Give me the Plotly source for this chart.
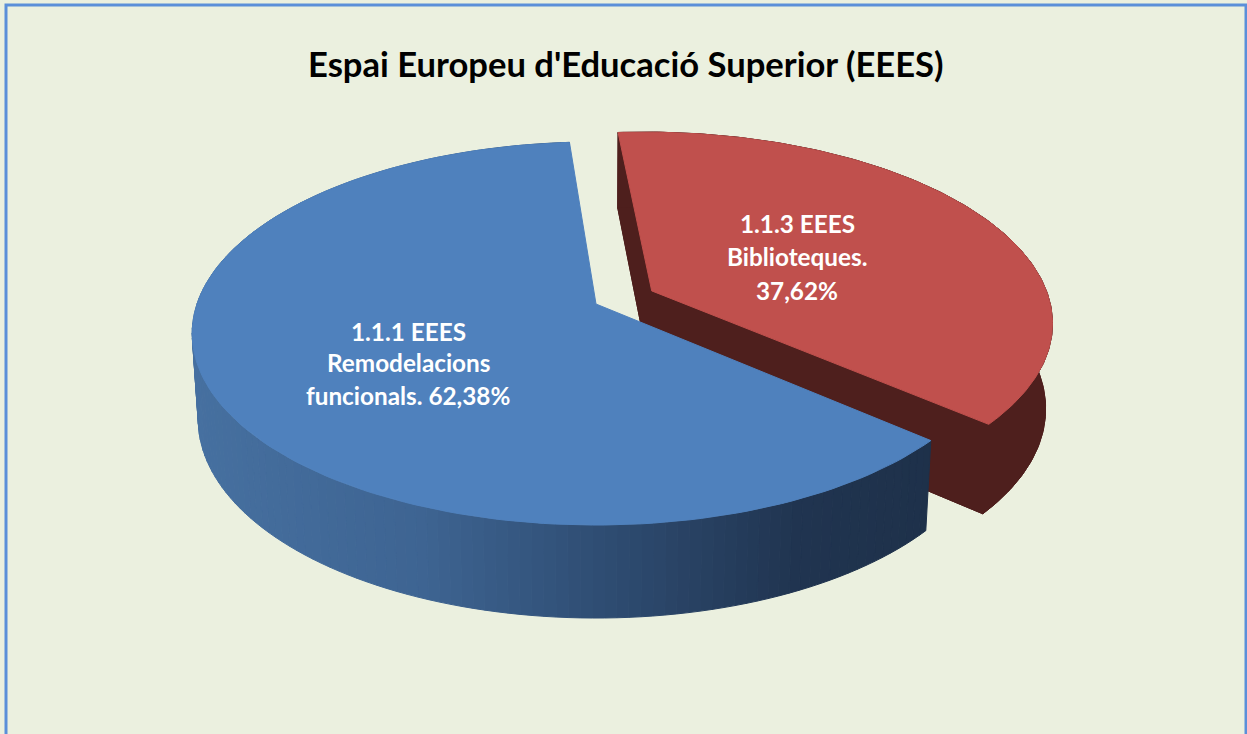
import math
import plotly.graph_objects as go

title = "Espai Europeu d'Educació Superior (EEES)"
names = ["1.1.3 EEES Biblioteques", "1.1.1 EEES Remodelacions funcionals"]
values = [37.62, 62.38]
label_lines = [["1.1.3 EEES", "Biblioteques.", "37,62%"],
               ["1.1.1 EEES", "Remodelacions", "funcionals. 62,38%"]]
top_colors = ["#C0504D", "#4F81BD"]
wall_color_red = "#4E1F1D"

W, H = 1247, 734
CX, CY, A, B, K = 596, 304, 399, 187, 0.154
START = -4.4
EXPLODE = [0.158, 0.0]
LABEL_POS = [(797, [223, 256, 290]), (408, [331, 362, 395])]


def project(X, Y, z=0.0):
    s = 1 / (1 + K * Y)
    return (CX + A * X * s * (1 - 0.015 * z),
            CY - B * Y * s + z * (84.5 - 8.5 * Y))


def ring(ang0, ang1, ox, oy, z, n=160):
    pts = []
    for i in range(n + 1):
        t = math.radians(ang0 + (ang1 - ang0) * i / n)
        pts.append(project(ox + math.sin(t), oy + math.cos(t), z))
    return pts


def poly(fig, pts, color):
    fig.add_trace(go.Scatter(
        x=[p[0] for p in pts] + [pts[0][0]],
        y=[p[1] for p in pts] + [pts[0][1]],
        mode="lines", fill="toself", fillcolor=color,
        line=dict(color=color, width=1), hoverinfo="skip", showlegend=False))


def mix(x):
    stops = [(190, (70, 112, 160)), (420, (62, 100, 146)), (640, (44, 72, 108)),
             (800, (32, 52, 80)), (935, (30, 49, 74))]
    for (x0, c0), (x1, c1) in zip(stops, stops[1:]):
        if x <= x1:
            f = max(0, (x - x0) / (x1 - x0))
            return "rgb(%d,%d,%d)" % tuple(round(a + (b - a) * f) for a, b in zip(c0, c1))
    return "rgb(30,49,74)"


fig = go.Figure()

spans = []
a0 = START
for v in values:
    a1 = a0 + v * 3.6
    spans.append((a0, a1))
    a0 = a1

a0, a1 = spans[0]
mid = math.radians((a0 + a1) / 2)
ox, oy = EXPLODE[0] * math.sin(mid), EXPLODE[0] * math.cos(mid)
top = ring(a0, a1, ox, oy, 0)
bot = ring(a0, a1, ox, oy, 1)
apex_t, apex_b = project(ox, oy, 0), project(ox, oy, 1)
poly(fig, [apex_t] + top + [apex_b], wall_color_red)
poly(fig, top + bot[::-1], wall_color_red)
poly(fig, [apex_t, top[0], bot[0], apex_b], wall_color_red)
poly(fig, [apex_t, top[-1], bot[-1], apex_b], wall_color_red)
poly(fig, [apex_b] + bot, wall_color_red)
poly(fig, [apex_t] + top, top_colors[0])

a0, a1 = spans[1]
top = ring(a0, a1, 0, 0, 0, n=150)
bot = ring(a0, a1, 0, 0, 1, n=150)
for i in range(150):
    xm = (top[i][0] + top[i + 1][0]) / 2
    poly(fig, [top[i], top[i + 1], bot[i + 1], bot[i]], mix(xm))
poly(fig, [project(0, 0)] + top, top_colors[1])

annotations = [dict(text=title, x=626, y=63, xref="x", yref="y", showarrow=False,
                    font=dict(family="Lato", size=34.6, color="black", weight="bold"))]
for lines, (lx, ys) in zip(label_lines, LABEL_POS):
    for line, ly in zip(lines, ys):
        annotations.append(dict(text=line, x=lx, y=ly, xref="x", yref="y", showarrow=False,
                                font=dict(family="Lato", size=24.3, color="white", weight="bold")))

fig.update_layout(
    width=W, height=H, margin=dict(l=0, r=0, t=0, b=0), autosize=False,
    paper_bgcolor="white", plot_bgcolor="#EBF0DF", showlegend=False,
    xaxis=dict(range=[0, W], visible=False, fixedrange=True),
    yaxis=dict(range=[H, 0], visible=False, fixedrange=True),
    annotations=annotations,
    shapes=[dict(type="rect", xref="x", yref="y", x0=6, y0=5, x1=W - 1, y1=H + 5,
                 fillcolor="#EBF0DF", line=dict(color="#5B8FD9", width=3), layer="below")],
)
fig.write_html("out.html", config=dict(displayModeBar=False),
               post_script="document.body.style.margin='0';document.documentElement.style.overflow='hidden';")
